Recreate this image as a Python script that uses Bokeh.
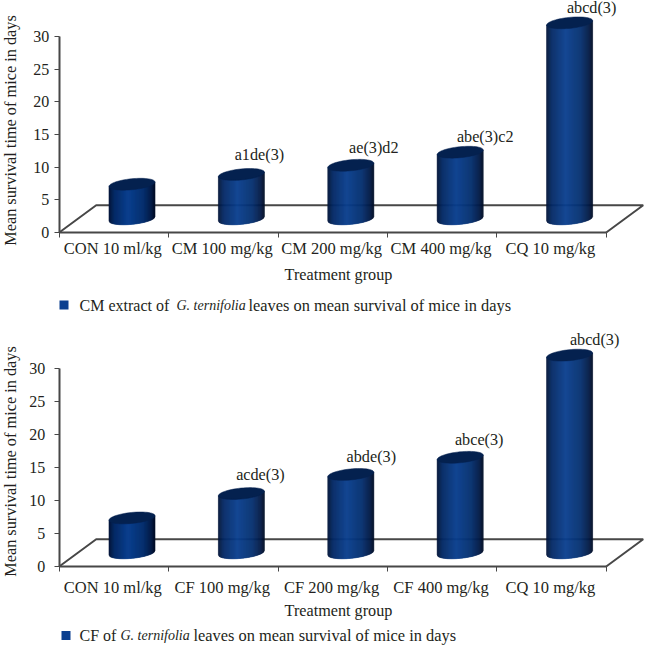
import numpy as np
from bokeh.plotting import figure
from bokeh.layouts import column
from bokeh.models import Range1d, FixedTicker
from bokeh.core.properties import value
from bokeh.embed import file_html
from bokeh.resources import INLINE

categories_cm = ["CON 10 ml/kg", "CM 100 mg/kg", "CM 200 mg/kg", "CM 400 mg/kg", "CQ 10 mg/kg"]
categories_cf = ["CON 10 ml/kg", "CF 100 mg/kg", "CF 200 mg/kg", "CF 400 mg/kg", "CQ 10 mg/kg"]
values_cm = [5.3, 6.8, 8.2, 10.2, 30.0]
values_cf = [5.3, 9.0, 11.9, 14.5, 30.0]
notes_cm = ["", "a1de(3)", "ae(3)d2", "abe(3)c2", "abcd(3)"]
notes_cf = ["", "acde(3)", "abde(3)", "abce(3)", "abcd(3)"]
y_ticks = [0, 5, 10, 15, 20, 25, 30]
y_title = "Mean survival time of mice in days"
x_title = "Treatment group"

FONT = "Liberation Serif"
INK = "#231f20"
RULE = "#474747"
PX_CAT = 109.4
LEFT = 58.7
STOPS = [(0.0, "#031536"), (0.12, "#052a66"), (0.42, "#0b408f"), (0.75, "#06306f"), (0.93, "#041b45"), (1.0, "#020d26")]


def grad(f):
    ps = [s[0] for s in STOPS]
    rgb = [[int(s[1][i:i + 2], 16) for i in (1, 3, 5)] for s in STOPS]
    c = [int(np.interp(f, ps, [r[k] for r in rgb])) for k in range(3)]
    return "#%02x%02x%02x" % tuple(c)


def chart(cats, vals, notes, note_shift, height, top_px, y0_px, y30_px, tick_y, title_y, legend_y,
          swatch_x, pieces, standoff, ytitle_y):
    unit = (y0_px - y30_px) / 30.0
    above = y0_px - top_px
    below = height - above
    p = figure(width=648, height=height, output_backend="svg", toolbar_location=None,
               x_range=Range1d(-LEFT / PX_CAT, (648 - LEFT) / PX_CAT),
               y_range=Range1d(-below / unit, above / unit),
               min_border_left=0, min_border_right=0, min_border_top=0, min_border_bottom=0)
    p.outline_line_color = None
    p.grid.visible = False
    p.background_fill_color = None

    dx, dy = 37 / PX_CAT, 27.3 / unit
    n = len(vals)
    p.line([0, dx, n + dx, n], [0, dy, dy, 0], line_color=RULE, line_width=2)

    a, b, s = 23 / PX_CAT, 5.5 / unit, 2.2 / unit
    cxs = [i + 0.5 + dx / 2 - 0.4 / PX_CAT for i in range(n)]
    xs, ys, cs = [], [], []
    for cx, v in zip(cxs, vals):
        base = dy / 2
        us = np.linspace(-1, 1, 47)
        for u0, u1 in zip(us[:-1], us[1:]):
            um = (u0 + u1) / 2
            low = lambda u: base + s * u - b * np.sqrt(max(1 - u * u, 0))
            xs.append([cx + a * u0, cx + a * u1, cx + a * u1, cx + a * u0])
            ys.append([low(u0), low(u1), base + v + s * u1, base + v + s * u0])
            cs.append(grad((um + 1) / 2))
    p.patches(xs, ys, fill_color=cs, line_color=cs, line_width=0.6)

    ex, ey = [], []
    t = np.linspace(0, 2 * np.pi, 60)
    for cx, v in zip(cxs, vals):
        ex.append(list(cx + a * np.cos(t)))
        ey.append(list(dy / 2 + v + s * np.cos(t) + b * np.sin(t)))
    p.patches(ex, ey, fill_color="#04214f", line_color="#04214f", line_width=0.5)

    def txt(x, y, text, size, style="normal", align="left", angle=0.0):
        p.text(x, y, text=text, text_font=value(FONT), text_font_size=value(size), angle=angle,
               text_font_style=style, text_color=INK, text_align=align, text_baseline="middle")

    idx = [i for i in range(n) if notes[i]]
    nx = [cxs[i] + note_shift[i][0] / PX_CAT for i in idx]
    ny = [dy / 2 + vals[i] + note_shift[i][1] / unit for i in idx]
    txt(nx, ny, [notes[i] for i in idx], "16.2px", align="center")

    txt([i + 0.49 for i in range(n)], [(y0_px - tick_y) / unit] * n, list(cats), "16.5px", align="center")
    txt([(338 - LEFT) / PX_CAT], [(y0_px - title_y) / unit], [x_title], "16.2px", align="center")
    txt([(9.5 - LEFT) / PX_CAT], [(y0_px - ytitle_y) / unit], [y_title], "16.3px", align="center", angle=np.pi / 2)

    p.quad(left=[(swatch_x - LEFT) / PX_CAT], right=[(swatch_x + 9 - LEFT) / PX_CAT],
           bottom=[(y0_px - legend_y - 4.5) / unit], top=[(y0_px - legend_y + 4.5) / unit],
           fill_color="#0b3f8f", line_color=None)
    for x, text, size, style in pieces:
        txt([(x - LEFT) / PX_CAT], [(y0_px - legend_y) / unit], [text], size, style)

    ax = p.xaxis[0]
    ax.fixed_location = 0
    ax.bounds = (0, n)
    ax.ticker = FixedTicker(ticks=list(range(n + 1)))
    ax.major_label_text_font_size = "0px"
    ax.major_label_text_color = None
    ax.major_tick_in = 0
    ax.major_tick_out = 5
    ax.minor_tick_in = 0
    ax.minor_tick_out = 0
    ax.major_tick_line_color = RULE
    ax.axis_line_color = RULE
    ax.axis_line_width = 2

    ay = p.yaxis[0]
    ay.fixed_location = 0
    ay.bounds = (0, 30)
    ay.ticker = FixedTicker(ticks=y_ticks)
    ay.major_tick_in = 0
    ay.major_tick_out = 5
    ay.minor_tick_in = 0
    ay.minor_tick_out = 0
    ay.major_tick_line_color = RULE
    ay.axis_line_color = RULE
    ay.axis_line_width = 2
    ay.major_label_standoff = standoff
    ay.major_label_text_font = FONT
    ay.major_label_text_font_size = "16px"
    ay.major_label_text_color = INK
    return p


p1 = chart(categories_cm, values_cm, notes_cm, [(0, 0), (18, 19), (23, 17), (25, 15), (22, 15)],
           325, 0, 232, 36, 248, 274, 304.5, 59,
           [(79, "CM extract of", "16px", "normal"), (176, "G. ternifolia", "14px", "italic"),
            (248, "leaves on mean survival of mice in days", "16.4px", "normal")], 5, 130)
p2 = chart(categories_cf, values_cf, notes_cf, [(0, 0), (19, 19), (20.5, 17), (19, 17), (25, 15.5)],
           320, 325, 566, 368.3, 587, 610, 635, 61,
           [(79, "CF of", "16px", "normal"), (120, "G. ternifolia", "14px", "italic"),
            (193, "leaves on mean survival of mice in days", "16.4px", "normal")], 9, 461)

page = column(p1, p2, spacing=0)
open("out.html", "w").write(file_html(page, INLINE))
